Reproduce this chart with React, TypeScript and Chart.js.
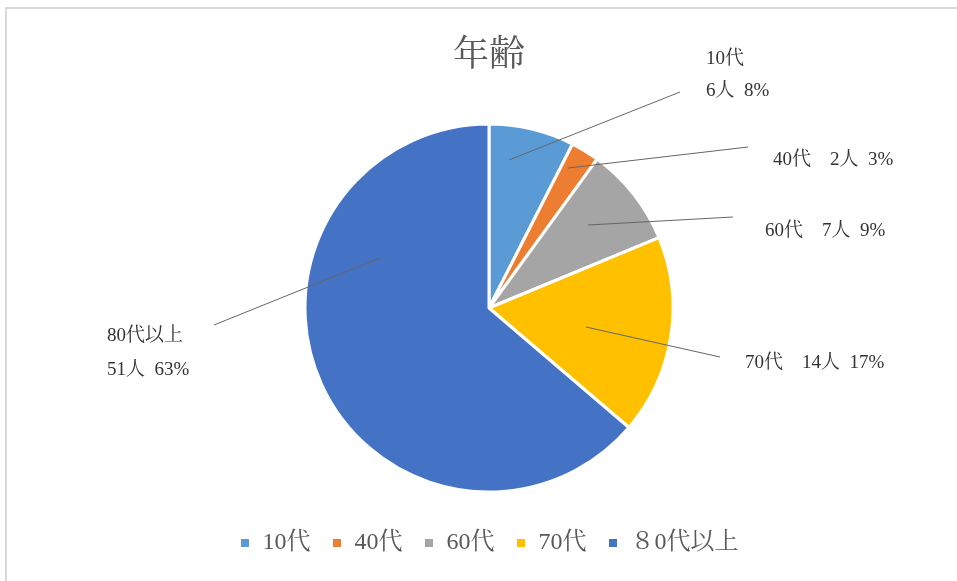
import React, { useEffect, useRef } from "react";
import { Chart, registerables } from "chart.js";

Chart.register(...registerables);

const TITLE = "年齢";
const legendCategories = ["10代", "40代", "60代", "70代", "８0代以上"];
const labelNames = ["10代", "40代", "60代", "70代", "80代以上"];
const counts = [6, 2, 7, 14, 51];
const percentLabels = ["8%", "3%", "9%", "17%", "63%"];
const sliceColors = ["#5B9BD5", "#ED7D31", "#A5A5A5", "#FFC000", "#4472C4"];

// label placement relative to pie centre (px): leader start, leader end, text anchor, two-line?
const labelLayout = [
  { inner: [20, -148], outer: [191, -216], text: [217, -248.5], twoLine: true, gap: 32 },
  { inner: [79, -140], outer: [259, -161], text: [284, -147.5], twoLine: false, gap: 0 },
  { inner: [99, -83], outer: [244, -91], text: [276, -76.5], twoLine: false, gap: 0 },
  { inner: [97, 19], outer: [231, 49], text: [256, 55.5], twoLine: false, gap: 0 },
  { inner: [-109, -50], outer: [-275, 17], text: [-382, 28], twoLine: true, gap: 34 },
];

const SERIF = '"Liberation Serif", "Noto Serif CJK JP", "Noto Sans CJK JP", serif';

const labelPlugin = {
  id: "outerLabels",
  afterDatasetsDraw(chart: any) {
    const ctx = chart.ctx;
    const meta = chart.getDatasetMeta(0);
    ctx.save();
    meta.data.forEach((arc: any, i: number) => {
      const L = labelLayout[i];
      const cx = arc.x;
      const cy = arc.y;
      ctx.strokeStyle = "#666666";
      ctx.lineWidth = 1;
      ctx.beginPath();
      ctx.moveTo(cx + L.inner[0], cy + L.inner[1]);
      ctx.lineTo(cx + L.outer[0], cy + L.outer[1]);
      ctx.stroke();
      ctx.fillStyle = "#333333";
      ctx.font = `19px ${SERIF}`;
      ctx.textAlign = "left";
      ctx.textBaseline = "middle";
      const tx = cx + L.text[0];
      const ty = cy + L.text[1];
      const countText = `${counts[i]}人  ${percentLabels[i]}`;
      if (L.twoLine) {
        ctx.fillText(labelNames[i], tx, ty);
        ctx.fillText(countText, tx, ty + L.gap);
      } else {
        ctx.fillText(`${labelNames[i]}　${countText}`, tx, ty);
      }
    });
    ctx.restore();
  },
};

export default function App() {
  const ref = useRef<HTMLCanvasElement | null>(null);
  useEffect(() => {
    if (!ref.current) return;
    const chart = new Chart(ref.current, {
      type: "pie",
      data: {
        labels: legendCategories,
        datasets: [
          {
            data: counts,
            backgroundColor: sliceColors,
            borderColor: "#ffffff",
            borderWidth: 3,
            radius: 184,
          } as any,
        ],
      },
      options: {
        animation: false,
        responsive: false,
        devicePixelRatio: 1,
        layout: { padding: { left: 21, right: 0, top: 0, bottom: 16 } },
        plugins: {
          title: {
            display: true,
            text: TITLE,
            color: "#595959",
            font: { family: SERIF, size: 36, weight: "normal" },
            padding: { top: 35.4, bottom: 27.4 },
          },
          legend: {
            display: true,
            position: "bottom",
            labels: {
              color: "#595959",
              font: { family: SERIF, size: 24 },
              boxWidth: 11,
              boxHeight: 11,
              padding: 21,
            },
          },
          tooltip: { enabled: false },
        },
      },
      plugins: [labelPlugin],
    });
    return () => chart.destroy();
  }, []);
  return (
    <div
      style={{
        position: "fixed",
        left: 0,
        top: 0,
        width: 957,
        height: 581,
        background: "#ffffff",
        overflow: "hidden",
      }}
    >
      <div
        style={{
          position: "absolute",
          left: 5,
          top: 7,
          width: 1200,
          height: 1200,
          border: "2px solid #d9d9d9",
          boxSizing: "border-box",
        }}
      />
      <canvas
        ref={ref}
        width={957}
        height={581}
        style={{ position: "absolute", left: 0, top: 0, width: 957, height: 581 }}
      />
    </div>
  );
}
